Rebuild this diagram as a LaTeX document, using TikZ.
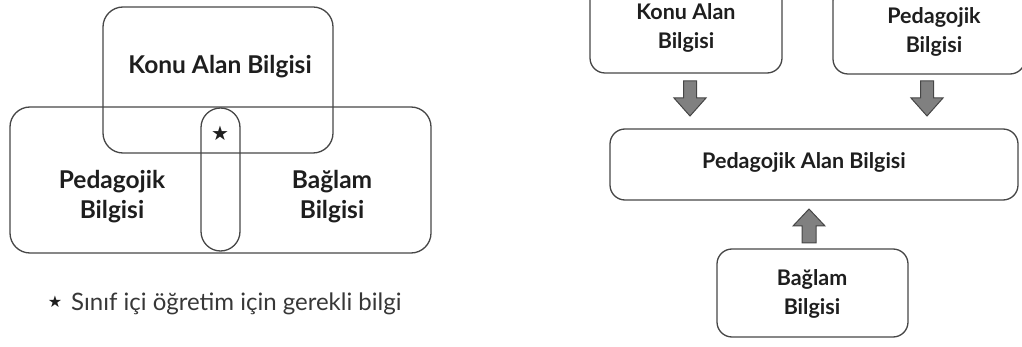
\documentclass[tikz,border=0pt]{standalone}
\usepackage{fontspec}
\setmainfont{Lato}
\newfontfamily\symfont{DejaVu Sans}
\usetikzlibrary{positioning}
\definecolor{linegray}{RGB}{70,70,70}
\definecolor{txt}{RGB}{30,30,30}
\definecolor{captxt}{RGB}{55,55,55}
\definecolor{arrfill}{RGB}{128,128,128}
\tikzset{
  bigbox/.style={draw=linegray, line width=1.3pt, rounded corners=20pt, inner sep=0pt},
  smallbox/.style={draw=linegray, line width=1.3pt, rounded corners=15pt, inner sep=0pt},
  ovalbox/.style={draw=linegray, line width=1.3pt, rounded corners=19.5pt, inner sep=0pt, minimum width=39pt, minimum height=143pt},
  lbl/.style={font=\fontsize{24.5}{30}\selectfont\bfseries, text=txt, align=center, inner sep=0pt},
  rlbl/.style={font=\fontsize{21.5}{29}\selectfont\bfseries, text=txt, align=center, inner sep=0pt},
  blockarrow/.style={draw=linegray, line width=1pt, fill=arrfill, line join=miter},
}
\begin{document}
\begin{tikzpicture}[x=1pt,y=-1pt]
\useasboundingbox (0,0) rectangle (1022,347);
\clip (0,0) rectangle (1022,347);
% ---------- left: overlapping areas ----------
\node[bigbox, minimum width=230pt, minimum height=146pt] (konuL) at (218,80) {};
\node[bigbox, minimum width=421pt, minimum height=146pt] (alt) at (220.5,180) {};
\node[ovalbox] (oval) at (220.5,179.5) {};
\node[lbl] (konuLt) at (220,67) {Konu Alan Bilgisi};
\node[lbl] (pedL) at (112,197) {Pedagojik\\Bilgisi};
\node[lbl] (bagL) at (332,197) {Bağlam\\Bilgisi};
\node[inner sep=0pt, text=txt, font=\symfont\fontsize{20}{20}\selectfont] (star) at (220,133) {★};
\node[inner sep=0pt, text=txt, font=\symfont\fontsize{16}{16}\selectfont] (capstar) at (55,302) {★};
\node[font=\fontsize{24}{28}\selectfont, text=captxt, inner sep=0pt, anchor=west] (cap) at (71,304) {Sınıf içi öğretim için gerekli bilgi};
% ---------- right: flow ----------
\node[smallbox, minimum width=192pt, minimum height=91pt] (konuR) at (686,27.5) {};
\node[rlbl] at (686,27.5) {Konu Alan\\Bilgisi};
\node[smallbox, minimum width=192pt, minimum height=88pt] (pedR) at (929,30) {};
\node[rlbl] at (934,31.5) {Pedagojik\\Bilgisi};
\node[smallbox, minimum width=408pt, minimum height=71pt] (pab) at (814,164.5) {};
\node[rlbl] at (804,162.5) {Pedagojik Alan Bilgisi};
\node[smallbox, minimum width=191pt, minimum height=88pt] (bagR) at (812.5,293) {};
\node[rlbl] at (812,293.5) {Bağlam\\Bilgisi};
% block arrows
\coordinate (a1) at (690,81);
\coordinate (a2) at (927,81);
\coordinate (a3) at (809,243);
\foreach \c in {a1,a2}{
  \draw[blockarrow] (\c) ++(-6.5,0) -- ++(13,0) -- ++(0,17) -- ++(9.5,0) -- ++(-16,18) -- ++(-16,-18) -- ++(9.5,0) -- cycle;
}
\draw[blockarrow] (a3) ++(-7,0) -- ++(14,0) -- ++(0,-17) -- ++(9,0) -- ++(-16,-17) -- ++(-16,17) -- ++(9,0) -- cycle;
\end{tikzpicture}
\end{document}
